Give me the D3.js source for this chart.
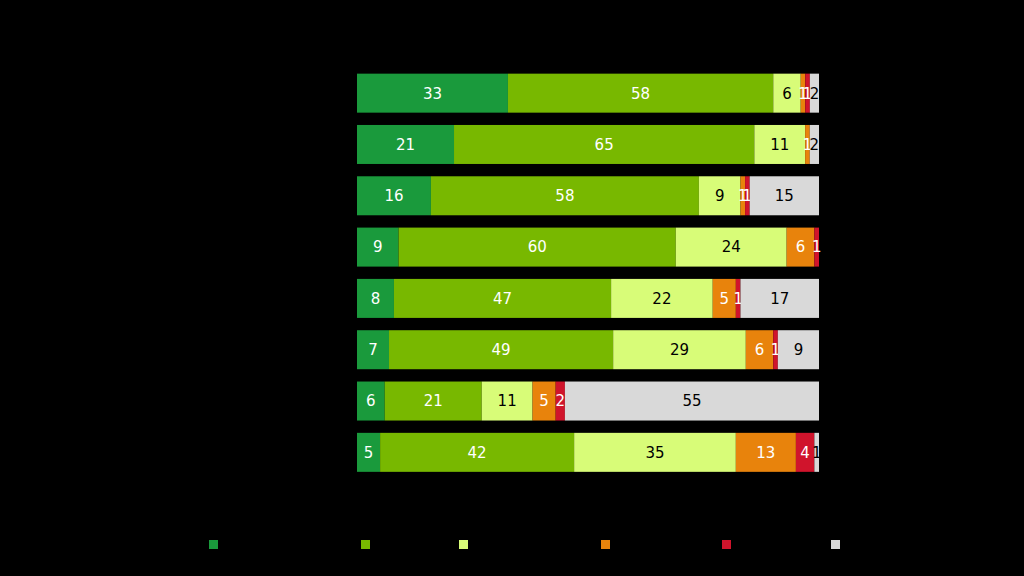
<!DOCTYPE html>
<html><head><meta charset="utf-8">
<script src="https://cdn.jsdelivr.net/npm/d3@7"></script>
<style>html,body{margin:0;padding:0;background:#000;}svg{display:block;}</style>
</head><body>
<script>
const categories = ["Item 1","Item 2","Item 3","Item 4","Item 5","Item 6","Item 7","Item 8"];
const seriesNames = ["Very good","Good","Fair","Poor","Very poor","Don't know"];
const veryGood = [33,21,16,9,8,7,6,5];
const good     = [58,65,58,60,47,49,21,42];
const fair     = [6,11,9,24,22,29,11,35];
const poor     = [1,1,1,6,5,6,5,13];
const veryPoor = [1,0,1,1,1,1,2,4];
const dontKnow = [2,2,15,0,17,9,55,1];
const colors = ["#1a9a3c","#78b800","#d8fc78","#e8830c","#d0142c","#d9d9d9"];
const textColors = ["#fff","#fff","#000","#fff","#fff","#000"];

const series = [veryGood, good, fair, poor, veryPoor, dontKnow];
const W = 1024, H = 576;
const svg = d3.select("body").append("svg").attr("width",W).attr("height",H);
svg.append("rect").attr("width",W).attr("height",H).attr("fill","#000");

const x = d3.scaleLinear().domain([0,100]).range([357,819]);
const y = d3.scaleBand().domain(categories).range([67.5,478]).paddingInner(0.24).paddingOuter(0.12);

categories.forEach((c,i)=>{
  const total = d3.sum(series, s=>s[i]);
  let acc = 0;
  const g = svg.append("g");
  series.forEach((s,k)=>{
    const v = s[i];
    if (v<=0) return;
    const x0 = x(acc/total*100), x1 = x((acc+v)/total*100);
    acc += v;
    g.append("rect").attr("x",x0).attr("y",y(c)).attr("width",x1-x0).attr("height",y.bandwidth()).attr("fill",colors[k]);
    g.append("text").attr("x",(x0+x1)/2).attr("y",y(c)+y.bandwidth()/2).attr("dy","0.36em")
      .attr("text-anchor","middle").attr("font-family","DejaVu Sans, Verdana, sans-serif").attr("font-size",15)
      .attr("fill",textColors[k]).text(v);
  });
  svg.append("text").attr("x",345).attr("y",y(c)+y.bandwidth()/2).attr("dy","0.36em").attr("text-anchor","end")
    .attr("font-family","DejaVu Sans, sans-serif").attr("font-size",13).attr("fill","#000").text(c);
});

const legendX = [209,361,459,601,722,831];
seriesNames.forEach((n,k)=>{
  svg.append("rect").attr("x",legendX[k]).attr("y",540).attr("width",9).attr("height",9).attr("fill",colors[k]);
  svg.append("text").attr("x",legendX[k]+14).attr("y",544.5).attr("dy","0.36em").attr("font-family","DejaVu Sans, sans-serif")
    .attr("font-size",12).attr("fill","#000").text(n);
});
</script>
</body></html>
